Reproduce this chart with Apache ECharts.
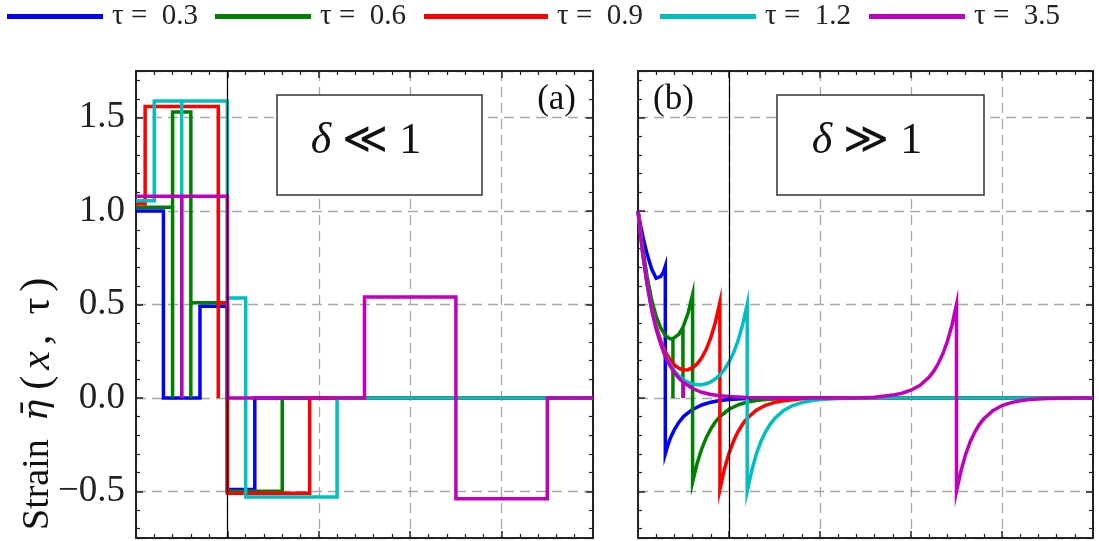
<!DOCTYPE html>
<html>
<head>
<meta charset="utf-8">
<script src="https://cdn.jsdelivr.net/npm/echarts/dist/echarts.min.js"></script>
<style>
html,body{margin:0;padding:0;background:#fff;}
#chart{width:1099px;height:541px;}
</style>
</head>
<body>
<div id="chart"></div>
<script>
// ---------- data ----------
const tauNames = ['τ =  0.3', 'τ =  0.6', 'τ =  0.9', 'τ =  1.2', 'τ =  3.5'];
const tauColors = ['#0000ff', '#008000', '#ff0000', '#00bfbf', '#bf00bf'];

// panel (a): delta << 1  (x, strain)
const stepT03 = [[0,1.0],[0.3,1.0],[0.3,0],[0.7,0],[0.7,0.49],[1.0,0.49],[1.0,-0.49],[1.3,-0.49],[1.3,0],[5,0]];
const stepT06 = [[0,1.02],[0.4,1.02],[0.4,0],[0.4,1.53],[0.6,1.53],[0.6,0],[0.6,0.51],[1.0,0.51],[1.0,-0.5],[1.6,-0.5],[1.6,0],[5,0]];
const stepT09 = [[0,1.04],[0.1,1.04],[0.1,1.56],[0.9,1.56],[0.9,0],[0.9,0.51],[1.0,0.51],[1.0,-0.51],[1.9,-0.51],[1.9,0],[5,0]];
const stepT12 = [[0,1.055],[0.2,1.055],[0.2,1.59],[0.5,1.59],[0.5,0],[0.5,1.59],[1.0,1.59],[1.0,0.535],[1.2,0.535],[1.2,-0.53],[2.2,-0.53],[2.2,0],[5,0]];
const stepT35 = [[0,1.08],[0.5,1.08],[0.5,0],[0.5,1.08],[1.0,1.08],[1.0,0],[2.5,0],[2.5,0.54],[3.5,0.54],[3.5,-0.54],[4.5,-0.54],[4.5,0],[5,0]];

// panel (b): delta >> 1
const expT03 = [[0,1.0],[0.03,0.92],[0.06,0.85],[0.1,0.77],[0.15,0.69],[0.2,0.64],[0.25,0.65],[0.28,0.675],[0.3,0.705],[0.3,-0.3],[0.33,-0.25],[0.36,-0.21],[0.4,-0.17],[0.45,-0.13],[0.5,-0.1],[0.55,-0.08],[0.6,-0.062],[0.7,-0.038],[0.8,-0.023],[0.9,-0.014],[1.0,-0.008],[1.2,-0.003],[1.5,0],[5,0]];
const expT06 = [[0,1.0],[0.05,0.81],[0.1,0.65],[0.15,0.525],[0.2,0.436],[0.25,0.374],[0.3,0.335],[0.35,0.317],[0.384,0.317],[0.384,0],[0.384,0.317],[0.4,0.319],[0.45,0.341],[0.494,0.378],[0.494,0],[0.494,0.378],[0.5,0.385],[0.55,0.453],[0.6,0.553],[0.6,-0.45],[0.65,-0.35],[0.7,-0.273],[0.75,-0.213],[0.8,-0.166],[0.85,-0.129],[0.9,-0.1],[1.0,-0.061],[1.1,-0.037],[1.2,-0.022],[1.3,-0.014],[1.4,-0.008],[1.6,-0.003],[1.8,0],[5,0]];
const expT09 = [[0,1.0],[0.05,0.786],[0.1,0.616],[0.15,0.484],[0.2,0.383],[0.25,0.306],[0.3,0.248],[0.35,0.206],[0.4,0.176],[0.45,0.158],[0.5,0.15],[0.55,0.151],[0.6,0.162],[0.65,0.182],[0.7,0.214],[0.75,0.26],[0.8,0.322],[0.85,0.404],[0.9,0.511],[0.9,-0.49],[0.95,-0.38],[1.0,-0.297],[1.05,-0.231],[1.1,-0.18],[1.15,-0.14],[1.2,-0.109],[1.3,-0.066],[1.4,-0.04],[1.5,-0.024],[1.6,-0.015],[1.8,-0.005],[2.0,-0.002],[2.3,0],[5,0]];
const expT12 = [[0,1.0],[0.05,0.78],[0.1,0.609],[0.15,0.475],[0.2,0.371],[0.25,0.291],[0.3,0.229],[0.35,0.181],[0.4,0.145],[0.45,0.117],[0.5,0.097],[0.55,0.083],[0.6,0.075],[0.65,0.071],[0.7,0.071],[0.75,0.076],[0.8,0.086],[0.85,0.101],[0.9,0.123],[0.95,0.152],[1.0,0.191],[1.05,0.241],[1.1,0.307],[1.15,0.392],[1.2,0.5],[1.2,-0.5],[1.25,-0.39],[1.3,-0.3],[1.35,-0.235],[1.4,-0.183],[1.45,-0.143],[1.5,-0.111],[1.6,-0.067],[1.7,-0.041],[1.8,-0.025],[1.9,-0.015],[2.0,-0.009],[2.2,-0.003],[2.5,0],[5,0]];
const expT35 = [[0,1.0],[0.05,0.779],[0.1,0.607],[0.15,0.472],[0.2,0.368],[0.25,0.287],[0.3,0.223],[0.35,0.174],[0.4,0.135],[0.45,0.105],[0.5,0.082],[0.5,0],[0.5,0.082],[0.6,0.05],[0.7,0.03],[0.8,0.018],[0.9,0.011],[1.0,0.007],[1.2,0.0025],[1.5,0],[2.4,0],[2.6,0.003],[2.8,0.015],[2.9,0.025],[3.0,0.041],[3.1,0.068],[3.2,0.112],[3.25,0.143],[3.3,0.184],[3.35,0.236],[3.4,0.303],[3.45,0.389],[3.5,0.5],[3.5,-0.5],[3.55,-0.389],[3.6,-0.303],[3.65,-0.236],[3.7,-0.184],[3.75,-0.143],[3.8,-0.112],[3.9,-0.068],[4.0,-0.041],[4.1,-0.025],[4.2,-0.015],[4.3,-0.009],[4.5,-0.003],[4.8,0],[5,0]];

const xRange = [0, 5];
const yRange = [-0.75, 1.75];
const interfaceX = 1;

const panelA = [stepT03, stepT06, stepT09, stepT12, stepT35];
const panelB = [expT03, expT06, expT09, expT12, expT35];

// ---------- chart ----------
const SERIF = "'Liberation Serif','DejaVu Serif',serif";
const chart = echarts.init(document.getElementById('chart'), null, {renderer: 'canvas'});

function xAx(grid, pos, split) {
  return {
    type: 'value', gridIndex: grid, position: pos, min: xRange[0], max: xRange[1],
    axisLine: {show: true, onZero: false, lineStyle: {color: '#222', width: 2}},
    axisTick: {show: true, inside: true, length: 7, lineStyle: {color: '#222', width: 1.5}},
    minorTick: {show: true, splitNumber: 5, length: 4, lineStyle: {color: '#222', width: 1.2}},
    axisLabel: {show: false},
    splitLine: {show: split, lineStyle: {color: '#a8a8a8', type: [10, 6], width: 1.3}}
  };
}
function yAx(grid, pos, split, labels) {
  return {
    type: 'value', gridIndex: grid, position: pos, min: yRange[0], max: yRange[1],
    axisLine: {show: true, onZero: false, lineStyle: {color: '#222', width: 2}},
    axisTick: {show: true, inside: true, length: 7, lineStyle: {color: '#222', width: 1.5}},
    minorTick: {show: true, splitNumber: 5, length: 4, lineStyle: {color: '#222', width: 1.2}},
    axisLabel: {show: labels, showMinLabel: false, showMaxLabel: false, margin: 11,
      fontFamily: SERIF, fontSize: 37, color: '#222',
      formatter: v => (v < 0 ? '−' : '') + Math.abs(v).toFixed(1)},
    splitLine: {show: split, lineStyle: {color: '#a8a8a8', type: [10, 6], width: 1.3}}
  };
}

const series = [];
[panelA, panelB].forEach((panel, p) => {
  panel.forEach((d, i) => {
    series.push({
      type: 'line', name: tauNames[i], xAxisIndex: p * 2, yAxisIndex: p * 2,
      data: d, showSymbol: false, symbol: 'none', color: tauColors[i],
      lineStyle: {width: 3.5, color: tauColors[i], join: 'miter', cap: 'butt'},
      animation: false, z: 2
    });
  });
  series.push({
    type: 'line', xAxisIndex: p * 2, yAxisIndex: p * 2, data: [[interfaceX, 0]],
    symbol: 'none', lineStyle: {opacity: 0}, z: 5, silent: true, animation: false,
    markLine: {symbol: 'none', silent: true, animation: false, label: {show: false},
      lineStyle: {color: '#000', width: 1.2, type: 'solid'}, data: [{xAxis: interfaceX}]}
  });
});

const legendLeft = [7, 215, 424, 660, 869];
const legendIconW = [96, 96, 124, 96, 96];
const legends = tauNames.map((n, i) => ({
  data: [n], left: legendLeft[i], top: 2, padding: 0, icon: 'rect',
  itemWidth: legendIconW[i], itemHeight: 5, selectedMode: true,
  textStyle: {fontFamily: SERIF, fontSize: 29, color: '#222', padding: [0, 0, 0, 4]}
}));

const option = {
  backgroundColor: '#fff',
  animation: false,
  legend: legends,
  grid: [
    {left: 136, top: 71, width: 457, height: 467},
    {left: 638, top: 71, width: 455, height: 467}
  ],
  xAxis: [xAx(0, 'bottom', true), xAx(0, 'top', false), xAx(1, 'bottom', true), xAx(1, 'top', false)],
  yAxis: [yAx(0, 'left', true, true), yAx(0, 'right', false, false), yAx(1, 'left', true, false), yAx(1, 'right', false, false)],
  series: series,
  graphic: [
    {type: 'rect', shape: {x: 277, y: 95, width: 205, height: 100}, style: {fill: '#fff', stroke: '#333', lineWidth: 1.5}, z: 50},
    {type: 'rect', shape: {x: 777, y: 95, width: 207, height: 100}, style: {fill: '#fff', stroke: '#333', lineWidth: 1.5}, z: 50},
    {type: 'text', x: 366, y: 141, z: 51, style: {text: '{i|δ} ≪ 1', align: 'center', verticalAlign: 'middle',
      font: '44px ' + SERIF, fill: '#111', rich: {i: {fontStyle: 'italic', fontFamily: SERIF, fontSize: 44}}}},
    {type: 'text', x: 867, y: 141, z: 51, style: {text: '{i|δ} ≫ 1', align: 'center', verticalAlign: 'middle',
      font: '44px ' + SERIF, fill: '#111', rich: {i: {fontStyle: 'italic', fontFamily: SERIF, fontSize: 44}}}},
    {type: 'text', x: 576, y: 100, z: 51, style: {text: '(a)', align: 'right', verticalAlign: 'middle', font: '35px ' + SERIF, fill: '#111'}},
    {type: 'text', x: 653, y: 100, z: 51, style: {text: '(b)', align: 'left', verticalAlign: 'middle', font: '35px ' + SERIF, fill: '#111'}},
    {type: 'text', x: 38, y: 530, rotation: Math.PI / 2, z: 51,
      style: {text: '{s|Strain}{e|η̄}{p|(}{v|x}{c|,}{t|τ}{q|)}', align: 'left', verticalAlign: 'middle', fill: '#111',
        font: '38px ' + SERIF,
        rich: {
          s: {fontFamily: SERIF, fontSize: 38},
          e: {fontFamily: "'DejaVu Serif',serif", fontSize: 36, fontStyle: 'italic', padding: [0, 10, 0, 18]},
          p: {fontFamily: SERIF, fontSize: 42, padding: [0, 6, 0, 0]},
          v: {fontFamily: SERIF, fontSize: 42, fontStyle: 'italic', padding: [0, 6, 0, 0]},
          c: {fontFamily: SERIF, fontSize: 42, padding: [0, 20, 0, 0]},
          t: {fontFamily: SERIF, fontSize: 42, padding: [0, 6, 0, 0]},
          q: {fontFamily: SERIF, fontSize: 42}
        }}}
  ]
};
chart.setOption(option);
</script>
</body>
</html>
